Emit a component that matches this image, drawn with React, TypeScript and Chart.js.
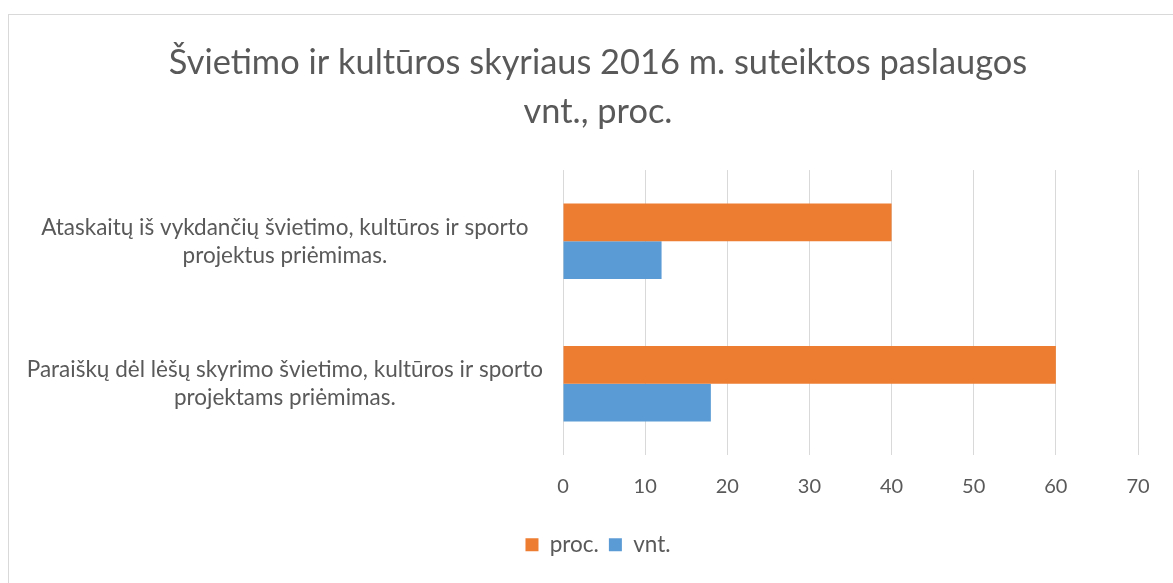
import React, { useEffect, useRef } from "react";
import { Chart, registerables } from "chart.js";

Chart.register(...registerables);

const titleLines = [
  "Švietimo ir kultūros skyriaus 2016 m. suteiktos paslaugos",
  "vnt., proc.",
];
const categories = [
  ["Ataskaitų iš vykdančių švietimo, kultūros ir sporto", "projektus priėmimas."],
  ["Paraiškų dėl lėšų skyrimo švietimo, kultūros ir sporto", "projektams priėmimas."],
];
const seriesNames = ["proc.", "vnt."];
const procValues = [40, 60];
const vntValues = [12, 18];
const xMin = 0;
const xMax = 70;
const xStep = 10;

const FONT = "Lato, 'Noto Sans', sans-serif";
const TEXT = "#595959";

export default function App() {
  const ref = useRef<HTMLCanvasElement | null>(null);

  useEffect(() => {
    if (!ref.current) return;
    const chart = new Chart(ref.current, {
      type: "bar",
      data: {
        labels: categories,
        datasets: [
          {
            label: seriesNames[0],
            data: procValues,
            backgroundColor: "#ED7D31",
            borderWidth: 0,
            categoryPercentage: 0.53,
            barPercentage: 1,
          },
          {
            label: seriesNames[1],
            data: vntValues,
            backgroundColor: "#5B9BD5",
            borderWidth: 0,
            categoryPercentage: 0.53,
            barPercentage: 1,
          },
        ],
      },
      options: {
        indexAxis: "y",
        animation: false,
        responsive: true,
        maintainAspectRatio: false,
        layout: { padding: { left: 14, right: 0, top: 0, bottom: 17 } },
        plugins: {
          title: {
            display: true,
            text: titleLines,
            color: TEXT,
            font: { family: FONT, size: 34.4, weight: "normal", lineHeight: 1.425 },
            padding: { top: 23.5, bottom: 33.5 },
          },
          legend: {
            display: true,
            position: "bottom",
            labels: {
              color: TEXT,
              font: { family: FONT, size: 22.5 },
              boxWidth: 13,
              boxHeight: 13,
              padding: 10,
            },
          },
          tooltip: { enabled: false },
        },
        scales: {
          x: {
            min: xMin,
            max: xMax,
            ticks: {
              stepSize: xStep,
              color: TEXT,
              font: { family: FONT, size: 20 },
              padding: 20,
            },
            grid: { color: "#D9D9D9", lineWidth: 1, drawTicks: false },
            border: { display: false },
            afterFit: (s: any) => {
              s.height = 68.5;
            },
          },
          y: {
            ticks: {
              color: TEXT,
              font: { family: FONT, size: 22.5, lineHeight: 1.245 },
              crossAlign: "center",
              padding: 20,
            },
            grid: { display: false, drawTicks: false },
            border: { display: false },
            afterFit: (s: any) => {
              s.width = 540;
            },
          },
          yRight: {
            type: "category",
            position: "right",
            display: true,
            ticks: { display: false },
            grid: { display: false, drawTicks: false },
            border: { display: false },
            afterFit: (s: any) => {
              s.width = 35;
            },
          },
        },
      },
    });
    return () => chart.destroy();
  }, []);

  return (
    <div
      style={{
        position: "absolute",
        left: 8,
        top: 14,
        width: 1165,
        height: 569,
        boxSizing: "border-box",
        borderLeft: "1px solid #D9D9D9",
        borderTop: "1px solid #D9D9D9",
        background: "#fff",
      }}
    >
      <div style={{ position: "relative", width: 1164, height: 568 }}>
        <canvas ref={ref} />
      </div>
    </div>
  );
}
